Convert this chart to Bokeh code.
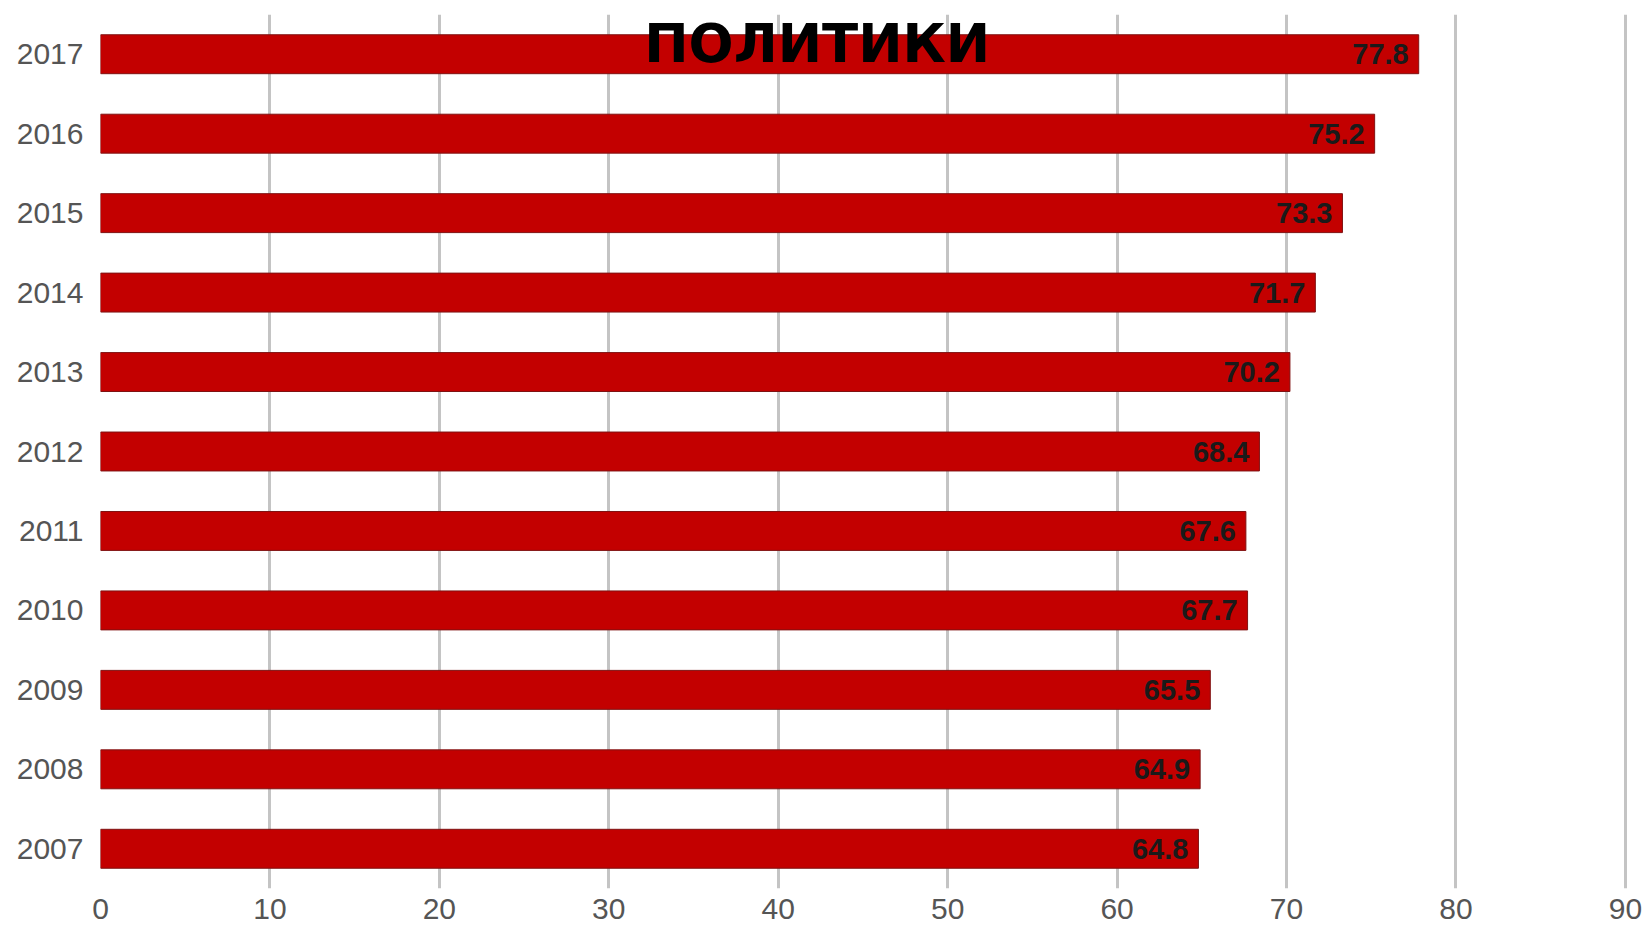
from bokeh.plotting import figure
from bokeh.models import ColumnDataSource, Label, FixedTicker, LabelSet
from bokeh.core.properties import value
from bokeh.embed import file_html
from bokeh.resources import INLINE

years = ["2007", "2008", "2009", "2010", "2011", "2012", "2013", "2014", "2015", "2016", "2017"]
values = [64.8, 64.9, 65.5, 67.7, 67.6, 68.4, 70.2, 71.7, 73.3, 75.2, 77.8]
labels = ["64.8", "64.9", "65.5", "67.7", "67.6", "68.4", "70.2", "71.7", "73.3", "75.2", "77.8"]
x_ticks = [0, 10, 20, 30, 40, 50, 60, 70, 80, 90]
title_text = "ПОЛИТИКИ"

src = ColumnDataSource(dict(year=years, value=values, label=labels))

p = figure(width=1644, height=933, y_range=years, x_range=(0, 90.3),
           output_backend="svg", toolbar_location=None,
           min_border_left=100, min_border_right=14, min_border_top=14, min_border_bottom=45)
p.y_range.range_padding = 0
p.outline_line_color = None
p.background_fill_color = "white"
p.border_fill_color = "white"

p.hbar(y="year", right="value", left=0, height=0.49, source=src,
       fill_color="#c30000", line_color="#7f1212", line_width=1)

p.add_layout(LabelSet(x="value", y="year", text="label", source=src,
                      x_offset=-10, text_align="right", text_baseline="middle",
                      text_font=value("Liberation Sans"), text_font_style="bold",
                      text_font_size="29px", text_color="#1a1a1a"))

p.add_layout(Label(x=42.3, y=10.64, text=title_text, text_align="center",
                   text_baseline="middle", text_font="DejaVu Sans",
                   text_font_style="bold", text_font_size="53px", text_color="#000000"))

p.xaxis.ticker = FixedTicker(ticks=x_ticks)
p.xgrid.ticker = FixedTicker(ticks=x_ticks)
p.xgrid.grid_line_color = "#c4c4c4"
p.xgrid.grid_line_width = 3
p.ygrid.grid_line_color = None

for ax in (p.xaxis, p.yaxis):
    ax.axis_line_color = None
    ax.major_tick_line_color = None
    ax.minor_tick_line_color = None
    ax.major_tick_out = 0
    ax.major_tick_in = 0
    ax.major_label_text_font = "Liberation Sans"
    ax.major_label_text_font_size = "30px"
    ax.major_label_text_color = "#555555"

p.xaxis.major_label_standoff = 10
p.yaxis.major_label_standoff = 17

open("out.html", "w").write(file_html(p, INLINE))
